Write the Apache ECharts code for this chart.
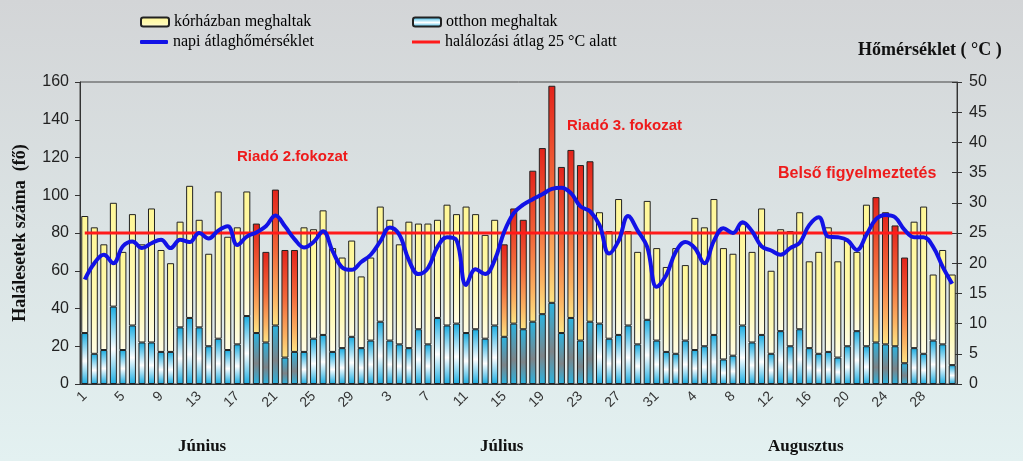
<!DOCTYPE html>
<html>
<head>
<meta charset="utf-8">
<script src="https://cdn.jsdelivr.net/npm/echarts@6/dist/echarts.min.js"></script>
<style>
  html, body { margin: 0; padding: 0; }
  #chart { width: 1023px; height: 461px; }
</style>
</head>
<body>
<div id="chart"></div>
<script>
// Day of month for each bar: June 1-30, July 1-31, August 1-31
const dayLabels = [
  '1','2','3','4','5','6','7','8','9','10','11','12','13','14','15','16','17','18','19','20','21','22','23','24','25','26','27','28','29','30',
  '1','2','3','4','5','6','7','8','9','10','11','12','13','14','15','16','17','18','19','20','21','22','23','24','25','26','27','28','29','30','31',
  '1','2','3','4','5','6','7','8','9','10','11','12','13','14','15','16','17','18','19','20','21','22','23','24','25','26','27','28','29','30','31'
];
const monthNames = ['Június', 'Július', 'Augusztus'];

// deaths at home (bottom of stack)
const homeDeaths = [
  27,16,18,41,18,31,22,22,17,17,30,35,30,20,24,18,21,36,27,22,31,14,17,17,24,26,17,19,25,19,
  23,33,23,21,19,29,21,35,31,32,27,29,24,31,25,32,29,33,37,43,27,35,23,33,32,24,26,31,21,34,23,
  17,16,23,18,20,26,13,15,31,22,26,16,28,20,29,19,16,17,14,20,28,20,22,21,20,11,19,16,23,21,10
];
// deaths in hospital (top of stack)
const hospitalDeaths = [
  62,67,56,55,52,59,52,71,54,47,56,70,57,49,78,60,62,66,58,48,72,57,54,66,58,66,55,48,51,38,
  44,61,64,53,67,56,64,52,64,58,67,61,55,56,49,61,58,80,88,115,88,89,93,85,59,57,72,50,49,63,49,
  45,56,40,70,63,72,59,54,54,48,67,44,54,61,62,46,54,66,51,56,42,75,77,70,64,56,67,78,35,50,48
];
// daily mean temperature (°C)
const meanTemp = [
  17.3,20,21.4,20,22.8,23.6,22.5,23.3,23.9,22.5,23.9,23.5,25,24.1,25.4,26.1,23,24.4,25.1,26.1,27.9,26.1,24,22.6,23.5,25.3,22,19.3,18.9,20.2,
  21.4,23.6,25.9,24.7,20.5,18.2,19.2,22.7,24.3,23.8,16.4,19,18.2,20.5,25.2,28.3,29.7,30.6,31.4,32.3,32.5,31.6,29.4,28.6,26.3,21.6,23.7,27.8,25.4,22.7,16.1,
  18,21.9,23.5,22.5,20,23.7,25.8,25,26.8,25.3,22.8,22.1,21.4,22.5,23.4,26.3,27.6,24.4,24.3,23.8,22.2,24.7,27.3,28,27.6,25.5,24.3,24.3,22.7,19.4,16.6
];
// mean daily deaths on days below 25 °C
const avgDeathsBelow25 = 80;
// heat alert days (bar index)
const alertDays = [18,19,20,21,22, 44,45,46,47,48,49,50,51,52,53, 83,84,85,86];

const LG = echarts.graphic.LinearGradient;
const yellowFill = new LG(0, 0, 0, 1, [
  { offset: 0, color: '#fff796' }, { offset: 0.65, color: '#fffab6' }, { offset: 1, color: '#fffde6' }
]);
const blueFill = new LG(0, 0, 0, 1, [
  { offset: 0, color: '#1aade2' }, { offset: 0.55, color: '#ffffff' }, { offset: 1, color: '#1aade2' }
]);
const redFill = new LG(0, 0, 0, 1, [
  { offset: 0, color: '#e3231b' }, { offset: 0.45, color: '#f2683a' }, { offset: 0.8, color: '#fbb262' }, { offset: 1, color: '#fde485' }
]);
const shadedBlueFill = new LG(0, 0, 0, 1, [
  { offset: 0, color: '#2ab3e0' }, { offset: 0.6, color: '#7d8488' }, { offset: 1, color: '#2ab3e0' }
]);

const homeData = homeDeaths.map((v, i) =>
  alertDays.includes(i) ? { value: v, itemStyle: { color: shadedBlueFill } } : v);
const hospitalData = hospitalDeaths.map((v, i) =>
  alertDays.includes(i) ? { value: v, itemStyle: { color: redFill } } : v);

const serif = 'Liberation Serif';
const sans = 'Liberation Sans';
const legendText = { fontFamily: serif, fontSize: 16, color: '#000' };

const chart = echarts.init(document.getElementById('chart'));

const option = {
  backgroundColor: new LG(0, 0, 0, 1, [
    { offset: 0, color: '#d3d5d7' }, { offset: 1, color: '#e3f1f1' }
  ]),
  animation: false,
  grid: {
    left: 80, right: 66, top: 82, bottom: 77,
    show: true, borderColor: '#444', borderWidth: 1
  },
  legend: [
    { data: ['kórházban meghaltak'], left: 135, top: 9, itemWidth: 28, itemHeight: 9, textStyle: legendText },
    { data: ['otthon meghaltak'], left: 407, top: 9, itemWidth: 28, itemHeight: 9, textStyle: legendText },
    { data: ['napi átlaghőmérséklet'], left: 135, top: 29, icon: 'roundRect', itemWidth: 28, itemHeight: 4, textStyle: legendText },
    { data: ['halálozási átlag 25 °C alatt'], left: 407, top: 29, icon: 'rect', itemWidth: 28, itemHeight: 3, textStyle: legendText }
  ],
  xAxis: {
    type: 'category',
    data: dayLabels,
    axisLine: { lineStyle: { color: '#333' } },
    axisTick: { interval: 0, length: 6, lineStyle: { color: '#333' } },
    axisLabel: {
      interval: 3, rotate: 45, margin: 10,
      fontFamily: sans, fontSize: 14, color: '#333'
    }
  },
  yAxis: [
    {
      type: 'value', min: 0, max: 160, interval: 20,
      name: 'Halálesetek száma  (fő)', nameLocation: 'middle', nameGap: 51,
      nameTextStyle: { fontFamily: serif, fontWeight: 'bold', fontSize: 18, color: '#111' },
      axisLine: { show: true, lineStyle: { color: '#333' } },
      axisTick: { show: true, length: 5, lineStyle: { color: '#333' } },
      axisLabel: { margin: 11, fontFamily: sans, fontSize: 16, color: '#222' },
      splitLine: { show: false }
    },
    {
      type: 'value', position: 'right', min: 0, max: 50, interval: 5,
      axisLine: { show: true, lineStyle: { color: '#333' } },
      axisTick: { show: true, length: 5, lineStyle: { color: '#333' } },
      axisLabel: { margin: 12, fontFamily: sans, fontSize: 16, color: '#222' },
      splitLine: { show: false }
    },
    {
      type: 'value', position: 'right', min: 0, max: 50, interval: 5,
      axisLine: { show: false },
      axisTick: { show: true, inside: true, length: 5, lineStyle: { color: '#333' } },
      axisLabel: { show: false },
      splitLine: { show: false }
    }
  ],
  series: [
    {
      name: 'otthon meghaltak', type: 'bar', stack: 'deaths',
      barWidth: 7,
      itemStyle: { color: blueFill, borderColor: '#222', borderWidth: 1 },
      data: homeData
    },
    {
      name: 'kórházban meghaltak', type: 'bar', stack: 'deaths',
      barWidth: 7,
      itemStyle: { color: yellowFill, borderColor: '#222', borderWidth: 1 },
      data: hospitalData
    },
    {
      name: 'halálozási átlag 25 °C alatt', type: 'line',
      symbol: 'none', z: 3,
      lineStyle: { color: '#ff1a1a', width: 3 },
      itemStyle: { color: '#ff1a1a' },
      data: dayLabels.map(() => avgDeathsBelow25)
    },
    {
      name: 'napi átlaghőmérséklet', type: 'line', yAxisIndex: 1,
      smooth: 0.4, symbol: 'none', z: 4,
      lineStyle: { color: '#1212e6', width: 4 },
      itemStyle: { color: '#1212e6' },
      data: meanTemp
    }
  ],
  graphic: [
    { type: 'text', left: 858, top: 41, style: { text: 'Hőmérséklet ( °C )', font: 'bold 18px "Liberation Serif"', fill: '#111' } },
    { type: 'text', left: 237, top: 149, style: { text: 'Riadó 2.fokozat', font: 'bold 15px "Liberation Sans"', fill: '#ee1b1b' } },
    { type: 'text', left: 567, top: 118, style: { text: 'Riadó 3. fokozat', font: 'bold 15px "Liberation Sans"', fill: '#ee1b1b' } },
    { type: 'text', left: 778, top: 166, style: { text: 'Belső figyelmeztetés', font: 'bold 16px "Liberation Sans"', fill: '#ee1b1b' } },
    { type: 'text', left: 178, top: 438, style: { text: monthNames[0], font: 'bold 17px "Liberation Serif"', fill: '#111' } },
    { type: 'text', left: 480, top: 438, style: { text: monthNames[1], font: 'bold 17px "Liberation Serif"', fill: '#111' } },
    { type: 'text', left: 768, top: 438, style: { text: monthNames[2], font: 'bold 17px "Liberation Serif"', fill: '#111' } }
  ]
};

chart.setOption(option);
</script>
</body>
</html>
